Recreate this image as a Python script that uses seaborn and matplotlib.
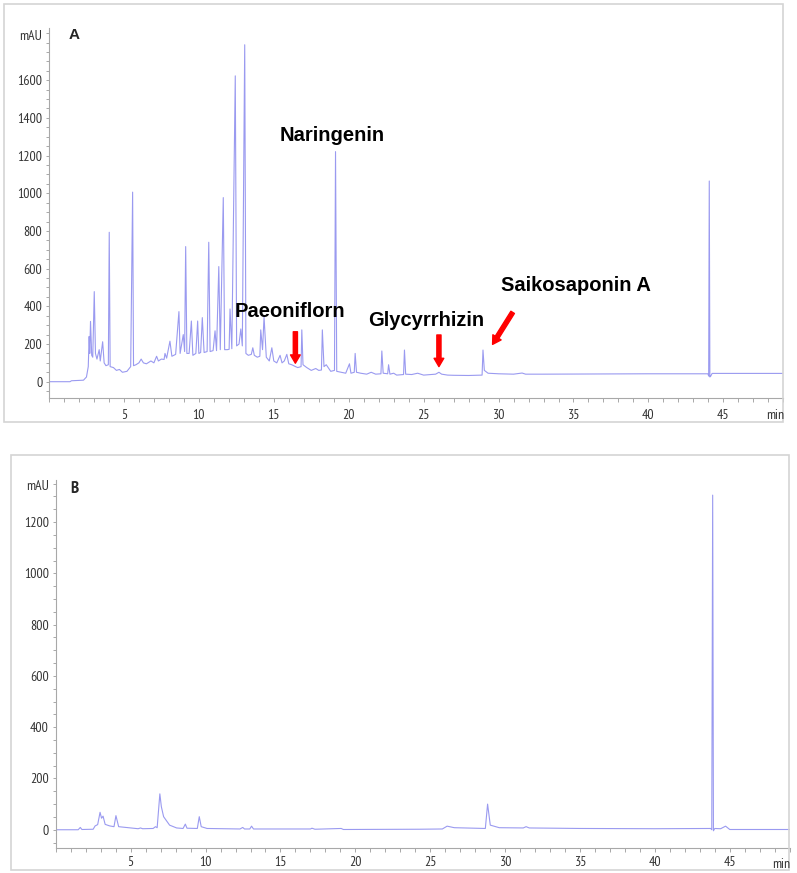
import matplotlib
matplotlib.use("Agg")
import matplotlib.pyplot as plt
import seaborn as sns
from matplotlib.ticker import FixedLocator, MultipleLocator
from matplotlib.patches import Rectangle

# --- chromatogram A (sample), vertices: time (min), signal (mAU)
a_time = [0.0, 1.4, 1.5, 2.3, 2.5, 2.62, 2.68, 2.72, 2.77, 2.85, 2.92, 3.02, 3.1, 3.2,
          3.35, 3.42, 3.58, 3.68, 3.8, 3.96, 4.02, 4.08, 4.3, 4.5, 4.7, 4.9, 5.2, 5.45,
          5.58, 5.64, 5.8, 6.0, 6.15, 6.3, 6.5, 6.8, 7.0, 7.18, 7.3, 7.5, 7.68, 7.74, 7.85,
          8.07, 8.2, 8.45, 8.67, 8.75, 8.96, 9.05, 9.12, 9.2, 9.35, 9.5, 9.6, 9.8, 9.92,
          10.0, 10.12, 10.23, 10.35, 10.55, 10.66, 10.75, 10.95, 11.08, 11.18, 11.33,
          11.43, 11.63, 11.72, 11.9, 12.02, 12.08, 12.2, 12.43, 12.52, 12.68, 12.8, 12.9,
          13.06, 13.14, 13.3, 13.5, 13.6, 13.7, 13.9, 14.07, 14.13, 14.25, 14.35, 14.5,
          14.7, 14.87, 15.0, 15.2, 15.42, 15.55, 15.7, 15.87, 16.0, 16.2, 16.45, 16.6,
          16.82, 16.87, 16.95, 17.2, 17.5, 17.8, 18.0, 18.18, 18.24, 18.35, 18.5, 18.8,
          19.05, 19.12, 19.2, 19.5, 19.8, 20.05, 20.15, 20.37, 20.43, 20.52, 20.8, 21.2,
          21.5, 21.8, 22.15, 22.21, 22.3, 22.6, 22.66, 22.75, 23.0, 23.2, 23.66, 23.72,
          23.8, 24.2, 24.6, 25.0, 25.5, 25.8, 26.02, 26.2, 26.6, 27.0, 28.0, 28.9, 28.96,
          29.05, 29.3, 30.0, 31.0, 31.57, 31.8, 33.0, 36.0, 40.0, 43.97, 44.02, 44.06,
          44.1, 44.16, 44.25, 49.0]
a_mau = [0, 0, 5, 8, 25, 80, 240, 150, 320, 140, 130, 478, 150, 120,
         170, 110, 212, 100, 85, 90, 793, 80, 75, 60, 65, 50, 55, 80,
         1006, 85, 90, 100, 120, 100, 95, 110, 100, 135, 110, 120, 118, 150, 125,
         215, 135, 145, 372, 150, 250, 160, 717, 150, 150, 322, 140, 150, 322,
         150, 155, 340, 155, 160, 740, 160, 165, 270, 165, 611,
         170, 977, 170, 170, 172, 386, 175, 1623, 190, 200, 280, 190,
         1788, 150, 140, 145, 180, 140, 130, 135, 275, 170, 345, 130,
         110, 180, 110, 100, 140, 100, 110, 145, 95, 90, 80, 75,
         80, 275, 90, 75, 60, 70, 60, 62, 275, 80, 90, 55,
         60, 1221, 55, 50, 45, 95, 45, 50, 150, 50, 45, 40,
         50, 40, 42, 163, 45, 42, 90, 40, 45, 35, 38, 168,
         40, 38, 45, 35, 38, 40, 50, 40, 35, 34, 33, 35, 168,
         60, 45, 42, 40, 46, 40, 40, 41, 42, 42, 30, 1065,
         25, 30, 44, 44]

# --- chromatogram B (blank)
b_time = [0.0, 1.5, 1.64, 1.75, 2.5, 2.63, 2.8, 2.96, 3.06, 3.16, 3.3, 3.6, 3.89, 4.02,
          4.2, 5.5, 5.66, 5.8, 6.5, 6.66, 6.77, 6.95, 7.05, 7.2, 7.6, 8.07, 8.5, 8.65,
          8.76, 9.45, 9.58, 9.71, 10.1, 12.3, 12.48, 12.6, 12.95, 13.07, 13.2, 17.0,
          17.1, 17.3, 19.05, 19.2, 24.24, 25.8, 26.12, 26.6, 28.67, 28.82, 29.0, 29.6,
          31.2, 31.39, 31.6, 35.0, 40.0, 43.71, 43.78, 43.84, 43.89, 43.98, 44.37, 44.7,
          44.98, 49.0]
b_mau = [0, 0, 9, 1, 2, 15, 20, 68, 45, 53, 21, 15, 12, 55,
         12, 4, 7, 4, 5, 12, 8, 140, 90, 51, 18, 7, 5, 22,
         6, 5, 51, 12, 5, 3, 9, 3, 3, 14, 3, 3,
         6, 2, 5, 1, 2, 3, 14, 8, 5, 100, 18, 8,
         7, 12, 7, 5, 4, 5, 0, 1305, -4, 5, 4, 14,
         1, 1]

# --- compound labels in panel A: text, left x (min), baseline y (mAU)
label_names = ["Naringenin", "Paeoniflorn", "Glycyrrhizin", "Saikosaponin A"]
label_x = [15.42, 12.37, 21.3, 30.16]
label_y = [1278, 345, 296, 483]

# --- red arrows in panel A: tail -> tip
arrow_tail = [(16.44, 265), (26.02, 248), (30.94, 368)]
arrow_tip = [(16.44, 98), (26.02, 80), (29.6, 198)]

W, H = 797, 873
NARROW = ["PT Sans Narrow", "Roboto Condensed", "DejaVu Sans"]
AXIS_GREY = "#a8a8a8"
TRACE = "#9a9af0"
TICK_SIZE = 10


def px_box(x0, y0, x1, y1):
    """Pixel box (top-left origin) to figure fraction [l, b, w, h]."""
    return [x0 / W, 1 - y1 / H, (x1 - x0) / W, (y1 - y0) / H]


def style_axis(ax, ylim, top_label, xpad):
    ax.set_xlim(0, 49)
    ax.set_ylim(*ylim)
    ax.xaxis.set_major_locator(FixedLocator(range(5, 50, 5)))
    ax.xaxis.set_minor_locator(MultipleLocator(1))
    ax.yaxis.set_major_locator(FixedLocator(range(0, top_label + 1, 200)))
    ax.yaxis.set_minor_locator(MultipleLocator(50))
    for s in ["top", "right"]:
        ax.spines[s].set_visible(False)
    for s in ["left", "bottom"]:
        ax.spines[s].set_color(AXIS_GREY)
        ax.spines[s].set_linewidth(0.8)
    ax.tick_params(axis="x", which="both", bottom=True, direction="out", length=3,
                   width=0.7, color=AXIS_GREY, pad=xpad, labelsize=TICK_SIZE,
                   labelcolor="#333333")
    ax.tick_params(axis="y", which="both", left=True, direction="out", length=2.5,
                   width=0.7, color=AXIS_GREY, pad=2.3, labelsize=TICK_SIZE,
                   labelcolor="#333333")
    for lab in ax.get_xticklabels() + ax.get_yticklabels():
        lab.set_family(NARROW)
    ax.set_xlabel("")
    ax.set_ylabel("")
    ax.set_facecolor("white")


sns.set_theme(style="white")
plt.rcParams["font.family"] = ["Liberation Sans", "DejaVu Sans"]

fig = plt.figure(figsize=(W / 100, H / 100), dpi=100)

# light grey frames around each panel
for box in [(4, 4, 783, 422), (11, 455, 789, 870)]:
    l, b, w, h = px_box(*box)
    fig.patches.append(Rectangle((l, b), w, h, transform=fig.transFigure, fill=False,
                                 edgecolor="#d4d4d4", lw=1.2))

ax_a = fig.add_axes(px_box(49, 28, 783.3, 398))
ax_b = fig.add_axes(px_box(55.7, 480, 790, 847.7))

sns.lineplot(x=a_time, y=a_mau, ax=ax_a, color=TRACE, lw=0.8, estimator=None)
sns.lineplot(x=b_time, y=b_mau, ax=ax_b, color=TRACE, lw=0.8, estimator=None)

style_axis(ax_a, (-86.5, 1877), 1600, 4.8)
style_axis(ax_b, (-70, 1364), 1200, 3.2)

# compound names and arrows
for name, x, y in zip(label_names, label_x, label_y):
    ax_a.text(x, y, name, ha="left", va="baseline", fontsize=14.5, fontweight="bold",
              color="black")
for tail, tip in zip(arrow_tail, arrow_tip):
    ax_a.annotate("", xy=tip, xytext=tail,
                  arrowprops=dict(arrowstyle="simple,head_width=0.7,head_length=0.6,tail_width=0.3",
                                  color="red", shrinkA=0, shrinkB=0, mutation_scale=10))

# panel letters, unit labels
fig.text(69 / W, 1 - 39 / H, "A", ha="left", va="baseline", fontsize=11, fontweight="bold")
fig.text(70.7 / W, 1 - 493 / H, "B", ha="left", va="baseline", fontsize=12,
         fontweight="bold", family=NARROW)
fig.text(42.3 / W, 1 - 40 / H, "mAU", ha="right", va="baseline", fontsize=TICK_SIZE,
         family=NARROW, color="#333333")
fig.text(49 / W, 1 - 490 / H, "mAU", ha="right", va="baseline", fontsize=TICK_SIZE,
         family=NARROW, color="#333333")
fig.text(784 / W, 1 - 419 / H, "min", ha="right", va="baseline", fontsize=TICK_SIZE,
         family=NARROW, color="#333333")
fig.text(790 / W, 1 - 868 / H, "min", ha="right", va="baseline", fontsize=TICK_SIZE,
         family=NARROW, color="#333333")

plt.savefig("out.png", dpi=100)
plt.close()
